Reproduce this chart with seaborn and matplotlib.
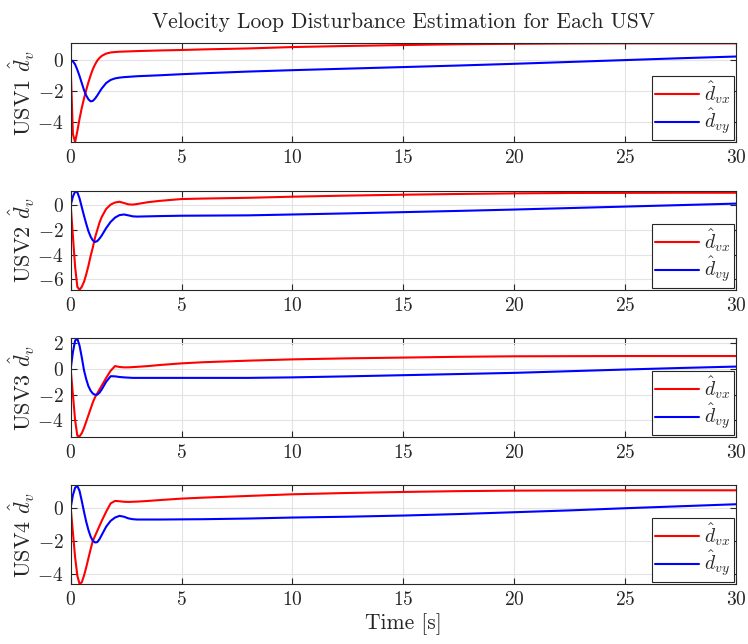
import numpy as np
import pandas as pd
import matplotlib
matplotlib.use("Agg")
import matplotlib.pyplot as plt
import seaborn as sns

# ---------------- data ----------------
t = [0, 0.1, 0.2, 0.3, 0.4, 0.5, 0.6, 0.7, 0.8, 0.9, 1.0, 1.1, 1.2, 1.3, 1.4,
     1.6, 1.8, 2.0, 2.2, 2.4, 2.6, 2.8, 3.0, 3.5, 4, 5, 6, 8, 10, 12.5, 15,
     17.5, 20, 22.5, 25, 27.5, 30]

usv1_dvx = [-0.5, -4.8, -5.3, -4.6, -3.8, -3.1, -2.5, -1.95, -1.45, -1.0, -0.6, -0.3, -0.05, 0.12, 0.25,
            0.4, 0.47, 0.5, 0.52, 0.53, 0.54, 0.55, 0.56, 0.58, 0.6, 0.63, 0.67, 0.73, 0.82, 0.89, 0.95,
            1.0, 1.03, 1.05, 1.06, 1.06, 1.06]
usv1_dvy = [0, -0.1, -0.3, -0.65, -1.05, -1.5, -1.95, -2.3, -2.55, -2.68, -2.65, -2.5, -2.3, -2.07, -1.85,
            -1.5, -1.3, -1.2, -1.15, -1.12, -1.1, -1.08, -1.06, -1.03, -1.0, -0.93, -0.87, -0.76, -0.67, -0.57, -0.47,
            -0.37, -0.26, -0.14, -0.02, 0.1, 0.21]

usv2_dvx = [0, -2.5, -5.0, -6.6, -6.85, -6.6, -6.2, -5.6, -4.9, -4.1, -3.4, -2.6, -2.0, -1.4, -0.95,
            -0.3, 0.05, 0.22, 0.28, 0.18, 0.07, 0.05, 0.1, 0.25, 0.35, 0.5, 0.54, 0.6, 0.69, 0.78, 0.85,
            0.91, 0.96, 0.99, 1.0, 1.01, 1.01]
usv2_dvy = [0, 0.7, 1.1, 1.05, 0.55, -0.15, -0.85, -1.5, -2.1, -2.55, -2.85, -2.97, -2.9, -2.7, -2.45,
            -1.85, -1.35, -1.0, -0.8, -0.75, -0.82, -0.9, -0.92, -0.9, -0.88, -0.85, -0.84, -0.82, -0.75, -0.66, -0.56,
            -0.46, -0.35, -0.23, -0.11, 0.01, 0.13]

usv3_dvx = [0, -2.0, -4.0, -5.2, -5.25, -5.0, -4.6, -4.1, -3.6, -3.1, -2.6, -2.2, -1.9, -1.6, -1.3,
            -0.7, -0.15, 0.22, 0.15, 0.12, 0.12, 0.14, 0.16, 0.22, 0.3, 0.43, 0.52, 0.64, 0.74, 0.82, 0.88,
            0.94, 0.98, 0.99, 1.0, 1.0, 1.0]
usv3_dvy = [0, 1.3, 2.2, 2.35, 1.8, 0.9, -0.1, -0.8, -1.35, -1.7, -1.92, -2.02, -2.0, -1.85, -1.6,
            -1.0, -0.57, -0.58, -0.63, -0.66, -0.68, -0.7, -0.7, -0.7, -0.7, -0.7, -0.7, -0.7, -0.66, -0.58, -0.49,
            -0.4, -0.31, -0.18, -0.05, 0.07, 0.18]

usv4_dvx = [0, -1.5, -3.0, -4.1, -4.6, -4.5, -4.1, -3.6, -3.05, -2.5, -2.0, -1.7, -1.4, -1.1, -0.8,
            -0.25, 0.25, 0.4, 0.38, 0.35, 0.34, 0.35, 0.36, 0.4, 0.45, 0.54, 0.6, 0.7, 0.8, 0.88, 0.94,
            0.99, 1.02, 1.03, 1.04, 1.04, 1.04]
usv4_dvy = [0, 0.75, 1.2, 1.3, 1.0, 0.4, -0.25, -0.85, -1.35, -1.75, -2.0, -2.1, -2.08, -1.9, -1.65,
            -1.15, -0.8, -0.6, -0.5, -0.55, -0.65, -0.7, -0.72, -0.72, -0.72, -0.71, -0.7, -0.66, -0.6, -0.55, -0.48,
            -0.39, -0.28, -0.17, -0.04, 0.08, 0.2]

usv_names = ["USV1", "USV2", "USV3", "USV4"]
dvx_series = [usv1_dvx, usv2_dvx, usv3_dvx, usv4_dvx]
dvy_series = [usv1_dvy, usv2_dvy, usv3_dvy, usv4_dvy]
y_limits = [(-5.3, 1.08), (-6.86, 1.15), (-5.3, 2.4), (-4.62, 1.34)]
y_ticks = [[-4, -2, 0], [-6, -4, -2, 0], [-4, -2, 0, 2], [-4, -2, 0]]
x_ticks = [0, 5, 10, 15, 20, 25, 30]

# ---------------- style ----------------
sns.set_style("ticks")
plt.rcParams.update({
    "font.family": ["cmr10", "DejaVu Serif"],
    "mathtext.fontset": "cm",
    "axes.formatter.use_mathtext": True,
    "axes.unicode_minus": False,
    "axes.edgecolor": "#262626",
    "axes.linewidth": 0.8,
    "xtick.color": "#262626",
    "ytick.color": "#262626",
    "text.color": "#262626",
})

fig = plt.figure(figsize=(7.48, 6.44), dpi=100)
left, width, height = 0.0945, 0.8895, 0.1537
bottoms = [0.7795, 0.5497, 0.3214, 0.0927]

for i in range(4):
    ax = fig.add_axes([left, bottoms[i], width, height])
    df = pd.DataFrame({"t": t, "dvx": dvx_series[i], "dvy": dvy_series[i]})
    sns.lineplot(data=df, x="t", y="dvx", color=(1, 0, 0), lw=1.5, ax=ax,
                 label=r"$\hat{d}_{vx}$", sort=False)
    sns.lineplot(data=df, x="t", y="dvy", color=(0, 0, 1), lw=1.5, ax=ax,
                 label=r"$\hat{d}_{vy}$", sort=False)
    ax.set_xlim(0, 30)
    ax.set_ylim(*y_limits[i])
    ax.set_xticks(x_ticks)
    ax.set_yticks(y_ticks[i])
    ax.grid(True, color="#e3e3e3", lw=0.8)
    ax.set_axisbelow(True)
    ax.tick_params(direction="in", top=True, right=True, length=4, width=0.8,
                   labelsize=14, pad=5)
    for s in ax.spines.values():
        s.set_visible(True)
    ax.set_ylabel(usv_names[i] + r" $\hat{d}_v$", fontsize=16)
    ax.yaxis.set_label_coords(-0.051, 0.5)
    ax.set_xlabel("Time [s]" if i == 3 else "", fontsize=15.5, labelpad=3)
    leg = ax.legend(loc="lower right", fontsize=14, frameon=True, fancybox=False,
                    borderaxespad=0.12, handlelength=2.3, handletextpad=0.25,
                    borderpad=0.15, labelspacing=0.05)
    leg.get_frame().set_edgecolor("#262626")
    leg.get_frame().set_linewidth(0.8)
    leg.get_frame().set_alpha(1)
    if i == 0:
        ax.set_title("Velocity Loop Disturbance Estimation for Each USV", fontsize=15.5, pad=11)

fig.savefig("out.png", dpi=100)
